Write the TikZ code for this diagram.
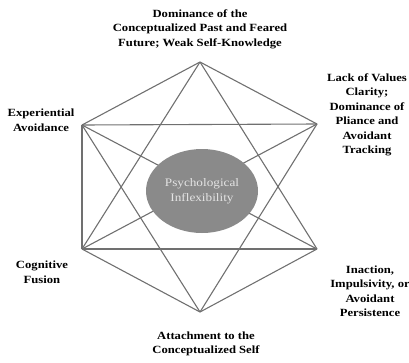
\documentclass[tikz,border=0pt]{standalone}
\usepackage{fontspec}
\setmainfont{Liberation Serif}
\newfontfamily\labfont[FakeStretch=1.15]{Liberation Serif}
\usetikzlibrary{shapes.geometric}
\definecolor{edgegray}{RGB}{112,112,112}
\definecolor{ellgray}{RGB}{138,138,138}
\definecolor{txtlight}{RGB}{228,228,228}
\begin{document}
\begin{tikzpicture}[x=1pt,y=-1pt,
  edge/.style={draw=edgegray,line width=1.1pt},
  lab/.style={align=center,font=\labfont\bfseries\fontsize{11}{14.5}\selectfont,inner sep=0pt},
  core/.style={ellipse,fill=ellgray,minimum width=112pt,minimum height=84pt,inner sep=0pt,align=center,text=txtlight,font=\labfont\fontsize{11.5}{15}\selectfont}]
\useasboundingbox (0,0) rectangle (409,362);
\coordinate (T) at (200,62);
\coordinate (UR) at (317,124);
\coordinate (LR) at (317,249);
\coordinate (B) at (200,312);
\coordinate (LL) at (82,249);
\coordinate (UL) at (82,125);
% hexagon
\draw[edge] (T) -- (UR);
\draw[edge] (LR) -- (B);
\draw[edge] (B) -- (LL);
\draw[edge] (LL) -- (UL);
\draw[edge] (UL) -- (T);
% triangles
\draw[edge] (T) -- (LL);
\draw[edge] (T) -- (LR);
\draw[edge] (LL) -- (LR);
\draw[edge] (B) -- (UL);
\draw[edge] (B) -- (UR);
\draw[edge] (UL) -- (UR);
% diagonals
\draw[edge] (UL) -- (LR);
\draw[edge] (UR) -- (LL);
\node[core] (core) at (202,191) {Psychological\\Inflexibility};
% labels
\node[lab] (lT) at (200,29) {Dominance of the\\Conceptualized Past and Feared\\Future; Weak Self-Knowledge};
\node[lab] (lUR) at (367,115) {Lack of Values\\Clarity;\\Dominance of\\Pliance and\\Avoidant\\Tracking};
\node[lab] (lUL) at (41,120) {Experiential\\Avoidance};
\node[lab] (lLL) at (42,272) {Cognitive\\Fusion};
\node[lab] (lLR) at (370,291) {Inaction,\\Impulsivity, or\\Avoidant\\Persistence};
\node[lab] (lB) at (206,344) {Attachment to the\\Conceptualized Self};
\end{tikzpicture}
\end{document}
